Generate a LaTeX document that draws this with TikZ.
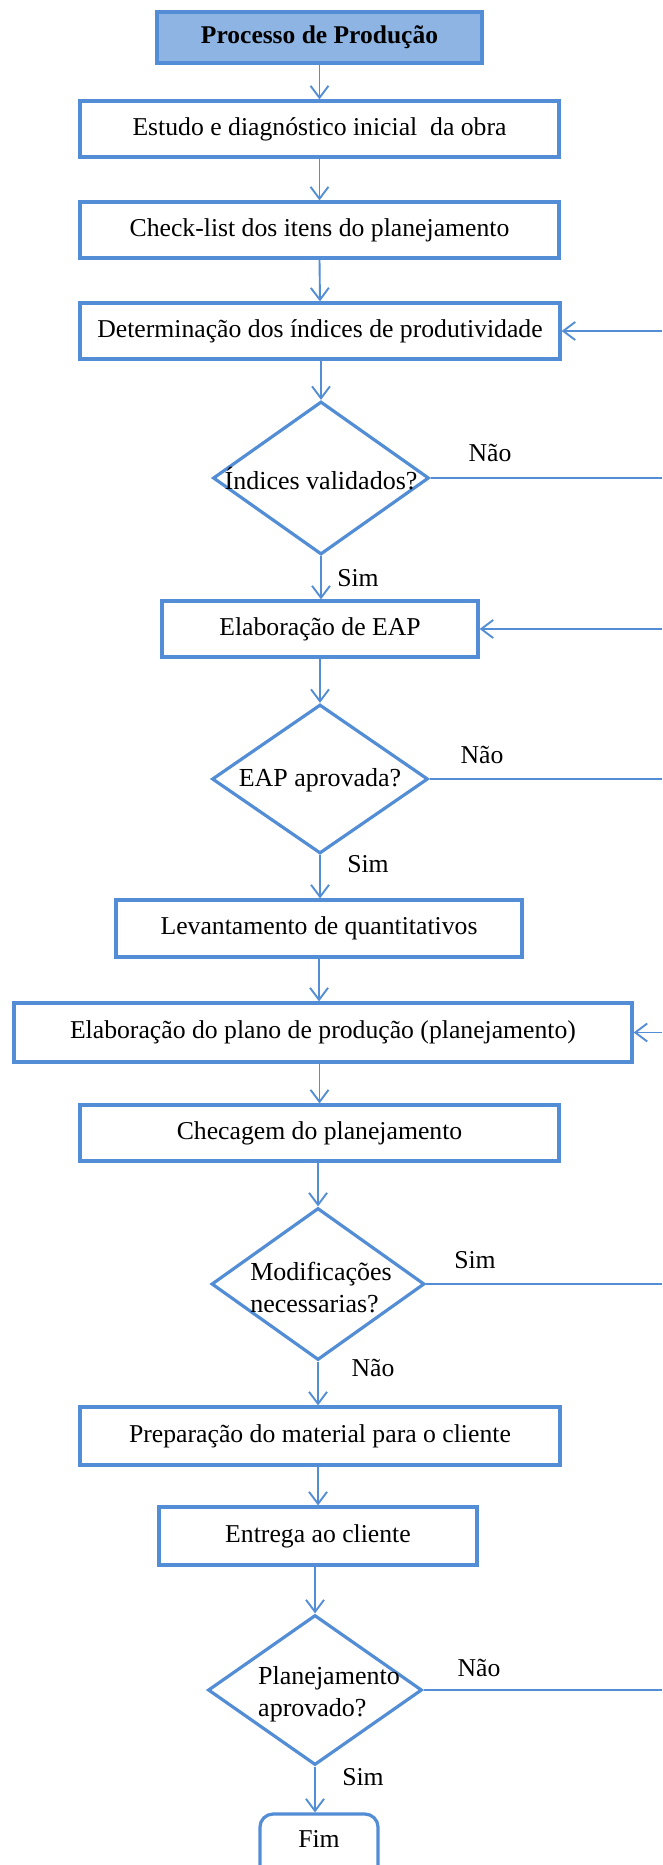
\documentclass[tikz,border=0pt]{standalone}
\usepackage{fontspec}
\setmainfont{Liberation Serif}
\usetikzlibrary{shapes.geometric,arrows.meta}

\definecolor{edge}{RGB}{83,141,213}
\definecolor{headfill}{RGB}{141,180,226}

\tikzset{
  box/.style={draw=edge, line width=3.2pt, rectangle, inner sep=0pt, fill=white,
              font=\fontsize{25.7}{31}\selectfont, align=center},
  headbox/.style={box, fill=headfill, font=\fontsize{25.5}{31}\selectfont\bfseries},
  endbox/.style={box, rounded corners=13pt},
  dia/.style={draw=edge, line width=3.2pt, diamond, inner sep=0pt, aspect=1},
  diatext/.style={font=\fontsize{26}{32}\selectfont, align=left, inner sep=0pt},
  lbl/.style={font=\fontsize{25.7}{31}\selectfont, inner sep=0pt},
  arr/.style={draw=edge, line width=1.9pt, -{Straight Barb[length=12pt,width=18pt,line width=1.9pt]}},
  ln/.style={draw=edge, line width=1.9pt}
}

\begin{document}
\begin{tikzpicture}[x=1pt, y=-1pt]
\useasboundingbox (0,0) rectangle (662,1865);
\clip (0,0) rectangle (662,1865);

% process steps
\node[headbox, minimum width=325pt, minimum height=51pt] (t)  at (319.5,37.5) {Processo de Produção};
\node[box, minimum width=479pt, minimum height=56pt] (b1) at (319.5,129)  {Estudo e diagnóstico inicial~ da obra};
\node[box, minimum width=479pt, minimum height=56pt] (b2) at (319.5,230)  {Check-list dos itens do planejamento};
\node[box, minimum width=480pt, minimum height=56pt] (b3) at (320,331)    {Determinação dos índices de produtividade};
\node[box, minimum width=316pt, minimum height=56pt] (b4) at (320,629)    {Elaboração de EAP};
\node[box, minimum width=406pt, minimum height=57pt] (b5) at (319,928.5)  {Levantamento de quantitativos};
\node[box, minimum width=618pt, minimum height=59pt] (b6) at (323,1032.5) {Elaboração do plano de produção (planejamento)};
\node[box, minimum width=479pt, minimum height=56pt] (b7) at (319.5,1133) {Checagem do planejamento};
\node[box, minimum width=480pt, minimum height=58pt] (b8) at (320,1436)   {Preparação do material para o cliente};
\node[box, minimum width=318pt, minimum height=58pt] (b9) at (318,1536)   {Entrega ao cliente};
\node[endbox, minimum width=118pt, minimum height=80pt] (fim) at (319,1854) {};
\node[lbl] (fimtext) at (319,1839) {Fim};

% decisions
\node[dia, minimum width=216pt, minimum height=153pt] (d1) at (321,478) {};
\node[diatext] (d1t) at (321,479) {Índices validados?};
\node[dia, minimum width=216pt, minimum height=149pt] (d2) at (320,779) {};
\node[diatext] (d2t) at (320,780) {EAP aprovada?};
\node[dia, minimum width=213pt, minimum height=152pt] (d3) at (318,1284) {};
\node[diatext] (d3t) at (321,1288) {Modificações\\necessarias?};
\node[dia, minimum width=214pt, minimum height=150pt] (d4) at (315,1690) {};
\node[diatext] (d4t) at (329,1694) {Planejamento\\aprovado?};

% main flow
\draw[arr] (t.south -| b1) -- (b1.north);
\draw[arr] (b1.south) -- (b2.north);
\draw[arr] (b2.south) -- (b3.north);
\draw[arr] (b3.south -| d1) -- (d1.north);
\draw[arr] (d1.south) -- (d1.south |- b4.north);
\draw[arr] (b4.south -| d2) -- (d2.north);
\draw[arr] (d2.south) -- (d2.south |- b5.north);
\draw[arr] (b5.south) -- (b5.south |- b6.north);
\draw[arr] (b6.south -| b7) -- (b7.north);
\draw[arr] (b7.south -| d3) -- (d3.north);
\draw[arr] (d3.south) -- (d3.south |- b8.north);
\draw[arr] (b8.south -| b9) -- (b9.north);
\draw[arr] (b9.south -| d4) -- (d4.north);
\draw[arr] (d4.south) -- (d4.south |- fim.north);

% return paths at the right margin
\coordinate (r1) at (662,331);
\coordinate (r2) at (662,629);
\coordinate (r3) at (662,1032.5);
\coordinate (o1) at (662,0);
\draw[ln] (d1.east) -- (d1.east -| o1);
\draw[ln] (d2.east) -- (d2.east -| o1);
\draw[ln] (d3.east) -- (d3.east -| o1);
\draw[ln] (d4.east) -- (d4.east -| o1);
\draw[arr] (r1) -- (b3.east);
\draw[arr] (r2) -- (b4.east);
\draw[arr] (r3) -- (b6.east);

% branch labels
\node[lbl] (l1) at (490,453) {Não};
\node[lbl] (l2) at (358,578) {Sim};
\node[lbl] (l3) at (482,755) {Não};
\node[lbl] (l4) at (368,864) {Sim};
\node[lbl] (l5) at (475,1260) {Sim};
\node[lbl] (l6) at (373,1368) {Não};
\node[lbl] (l7) at (479,1668) {Não};
\node[lbl] (l8) at (363,1777) {Sim};
\end{tikzpicture}
\end{document}
